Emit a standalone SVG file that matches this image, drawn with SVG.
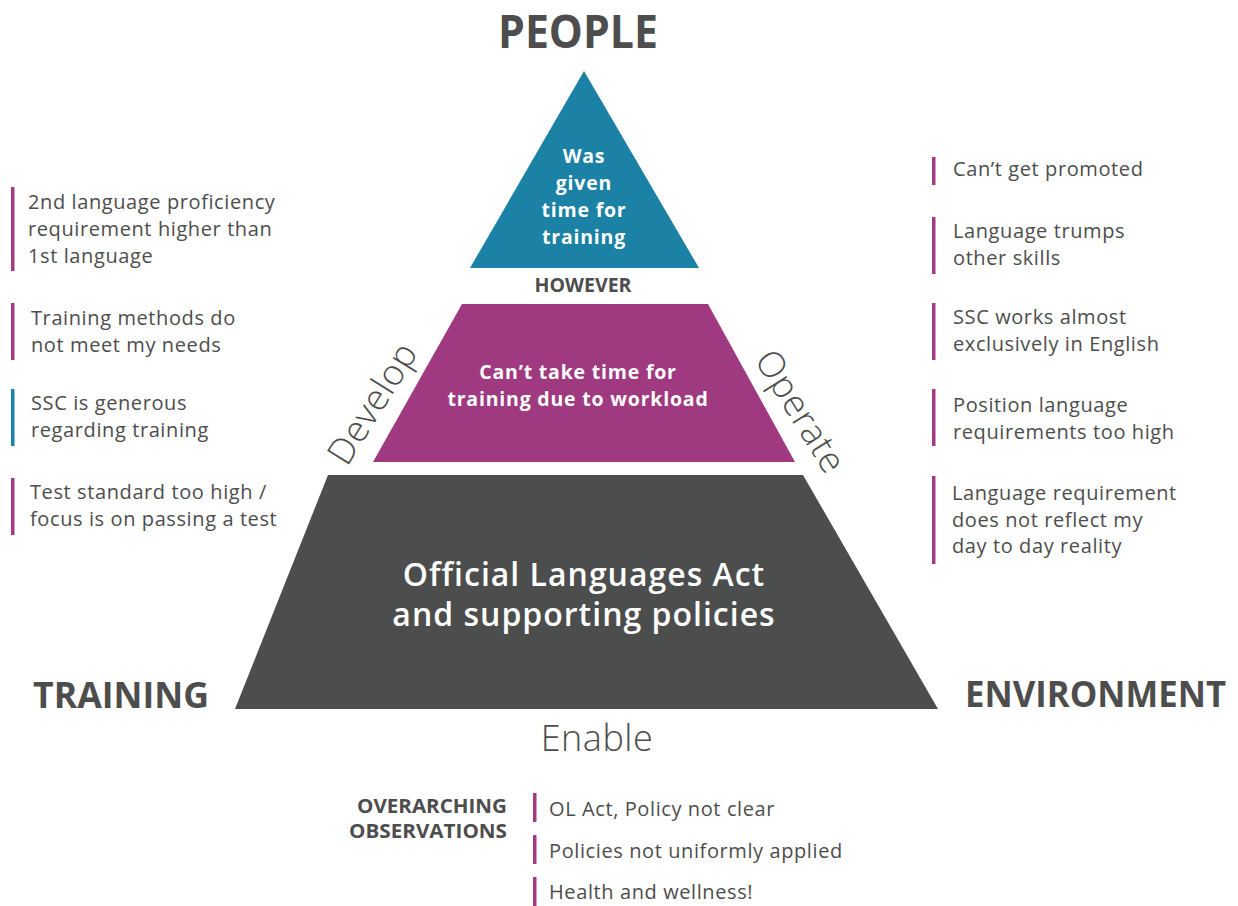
<svg xmlns="http://www.w3.org/2000/svg" width="1238" height="906" viewBox="0 0 1238 906">
  <style>
    text { font-family: "Open Sans", "Liberation Sans", sans-serif; fill: #4d4d4d; }
    .head { font-weight: 700; font-size: 46px; }
    .corner { font-weight: 700; font-size: 36px; }
    .side { font-weight: 300; font-size: 36px; letter-spacing: 0.5px; }
    .item { font-size: 20px; letter-spacing: 0.6px; }
    .label { font-weight: 700; font-size: 19px; }
    .inner { font-weight: 700; font-size: 19.5px; letter-spacing: 0.8px; fill: #ffffff; text-anchor: middle; }
    .base { font-weight: 600; font-size: 32px; letter-spacing: 1px; fill: #ffffff; text-anchor: middle; }
    .bar-p { fill: #a23b84; }
    .bar-t { fill: #1b81a5; }
  </style>

  <!-- Pyramid tiers -->
  <g id="tier-people">
    <polygon points="584,71 470,268 699,268" fill="#1b81a5"/>
    <text class="inner" x="584" y="163">Was</text>
    <text class="inner" x="584" y="190">given</text>
    <text class="inner" x="584" y="217">time for</text>
    <text class="inner" x="584" y="244">training</text>
  </g>

  <g id="however">
    <text class="label" x="583" y="292" text-anchor="middle" textLength="97" lengthAdjust="spacingAndGlyphs">HOWEVER</text>
  </g>

  <g id="tier-middle">
    <polygon points="462,304 708,304 795,462 373,462" fill="#a03a80"/>
    <text class="inner" x="578" y="379">Can’t take time for</text>
    <text class="inner" x="578" y="406">training due to workload</text>
  </g>

  <g id="tier-base">
    <polygon points="328,475 803,475 938,709 235,709" fill="#4c4d4d"/>
    <text class="base" x="584" y="586">Official Languages Act</text>
    <text class="base" x="584" y="626">and supporting policies</text>
  </g>

  <!-- Corner headings -->
  <g id="people"><text class="head" x="578" y="48" text-anchor="middle" textLength="160" lengthAdjust="spacingAndGlyphs">PEOPLE</text></g>
  <g id="training"><text class="corner" x="33" y="708" textLength="176" lengthAdjust="spacingAndGlyphs">TRAINING</text></g>
  <g id="environment"><text class="corner" x="965" y="707" textLength="261" lengthAdjust="spacingAndGlyphs">ENVIRONMENT</text></g>

  <!-- Side words -->
  <g id="develop"><text class="side" text-anchor="middle" transform="translate(383,410) rotate(-58)">Develop</text></g>
  <g id="operate"><text class="side" text-anchor="middle" transform="translate(790,418) rotate(58)">Operate</text></g>
  <g id="enable"><text class="side" x="597" y="751" text-anchor="middle">Enable</text></g>

  <!-- Training observations -->
  <g id="left-1">
    <rect class="bar-p" x="11" y="187" width="3.5" height="84"/>
    <text class="item" x="28" y="209">2nd language proficiency</text>
    <text class="item" x="28" y="236">requirement higher than</text>
    <text class="item" x="28" y="263">1st language</text>
  </g>
  <g id="left-2">
    <rect class="bar-p" x="11" y="303" width="3.5" height="57"/>
    <text class="item" x="31" y="325">Training methods do</text>
    <text class="item" x="31" y="352">not meet my needs</text>
  </g>
  <g id="left-3">
    <rect class="bar-t" x="11" y="389" width="3.5" height="57"/>
    <text class="item" x="31" y="410">SSC is generous</text>
    <text class="item" x="31" y="437">regarding training</text>
  </g>
  <g id="left-4">
    <rect class="bar-p" x="11" y="478" width="3.5" height="57"/>
    <text class="item" x="30" y="499">Test standard too high /</text>
    <text class="item" x="30" y="526">focus is on passing a test</text>
  </g>

  <!-- Environment observations -->
  <g id="right-1">
    <rect class="bar-p" x="932" y="157" width="3.5" height="28"/>
    <text class="item" x="953" y="176">Can’t get promoted</text>
  </g>
  <g id="right-2">
    <rect class="bar-p" x="932" y="217" width="3.5" height="57"/>
    <text class="item" x="953" y="238">Language trumps</text>
    <text class="item" x="953" y="265">other skills</text>
  </g>
  <g id="right-3">
    <rect class="bar-p" x="932" y="303" width="3.5" height="57"/>
    <text class="item" x="953" y="324">SSC works almost</text>
    <text class="item" x="953" y="351">exclusively in English</text>
  </g>
  <g id="right-4">
    <rect class="bar-p" x="932" y="389" width="3.5" height="57"/>
    <text class="item" x="953" y="412">Position language</text>
    <text class="item" x="953" y="439">requirements too high</text>
  </g>
  <g id="right-5">
    <rect class="bar-p" x="932" y="476" width="3.5" height="88"/>
    <text class="item" x="952" y="500">Language requirement</text>
    <text class="item" x="952" y="527">does not reflect my</text>
    <text class="item" x="952" y="553">day to day reality</text>
  </g>

  <!-- Overarching observations -->
  <g id="overarching">
    <text class="label" x="507" y="813" text-anchor="end" textLength="150" lengthAdjust="spacingAndGlyphs">OVERARCHING</text>
    <text class="label" x="507" y="838" text-anchor="end" textLength="158" lengthAdjust="spacingAndGlyphs">OBSERVATIONS</text>
  </g>
  <g id="over-1">
    <rect class="bar-p" x="533" y="793" width="3.5" height="29"/>
    <text class="item" x="549" y="816">OL Act, Policy not clear</text>
  </g>
  <g id="over-2">
    <rect class="bar-p" x="533" y="835" width="3.5" height="29"/>
    <text class="item" x="549" y="858">Policies not uniformly applied</text>
  </g>
  <g id="over-3">
    <rect class="bar-p" x="533" y="877" width="3.5" height="29"/>
    <text class="item" x="549" y="899">Health and wellness!</text>
  </g>
</svg>
